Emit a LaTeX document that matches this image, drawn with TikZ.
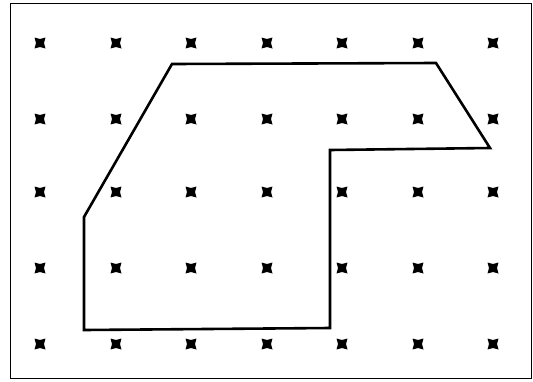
\documentclass[tikz,border=0pt]{standalone}
\begin{document}
\begin{tikzpicture}[x=1pt,y=-1pt,
  frame/.style={draw=black,line width=0.9pt},
  outline/.style={draw=black,line width=2.6pt,line join=miter},
  gridpt/.style={fill=black}]
\useasboundingbox (0,0) rectangle (533,381);
\draw[frame] (10,3) rectangle (531,378);
% grid dots
\foreach \gx in {40,116,191,267,342,418,493}{
  \foreach \gy in {43,119,192,268,344}{
    \fill[gridpt] (\gx-5.5,\gy-5.5) -- (\gx,\gy-4) -- (\gx+5.5,\gy-5.5) -- (\gx+4,\gy) -- (\gx+5.5,\gy+5.5) -- (\gx,\gy+4) -- (\gx-5.5,\gy+5.5) -- (\gx-4,\gy) -- cycle;
  }
}
% polygon
\coordinate (p1) at (172,64);
\coordinate (p2) at (436,63);
\coordinate (p3) at (490,148);
\coordinate (p4) at (330,150);
\coordinate (p5) at (330,328);
\coordinate (p6) at (84,330);
\coordinate (p7) at (84,217);
\draw[outline] (p1) -- (p2) -- (p3) -- (p4) -- (p5) -- (p6) -- (p7) -- cycle;
\end{tikzpicture}
\end{document}
